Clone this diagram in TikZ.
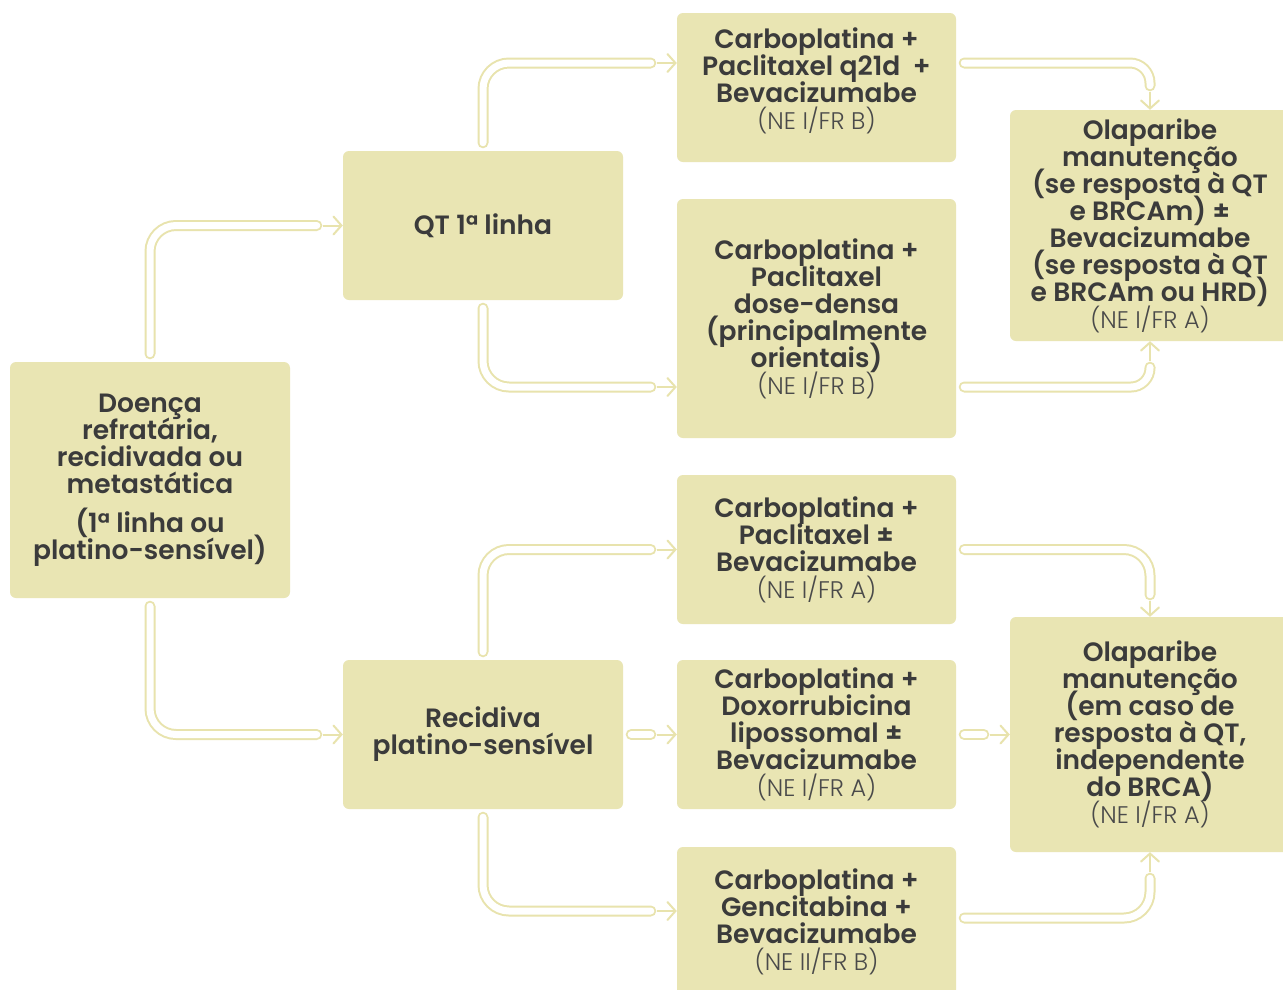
\documentclass[tikz,border=0pt]{standalone}
\usepackage{fontspec}
\setmainfont{Poppins}[BoldFont={Poppins SemiBold}]
\newfontfamily\nefont{Poppins Light}
\usetikzlibrary{calc,arrows.meta}
\definecolor{boxfill}{HTML}{E9E5B3}
\definecolor{tubecol}{HTML}{E8E3AD}
\definecolor{ink}{HTML}{3B3B3B}
\definecolor{inklight}{HTML}{4A4A4A}
\newcommand{\nelabel}[1]{{\nefont\mdseries\fontsize{24}{27}\selectfont\color{inklight}#1}}
\newcommand{\tightlines}{\lineskiplimit=-30pt\relax\lineskip=0pt\relax}
\tikzset{
  box/.style={fill=boxfill, rounded corners=6pt, align=center, text=ink,
    font=\bfseries\fontsize{26.5}{27}\selectfont\tightlines,
    inner sep=0pt, minimum width=280pt, minimum height=149pt},
  tube/.style={draw=tubecol, line width=2pt, double=white, double distance=7pt,
    line cap=round, rounded corners=26pt},
  arr/.style={draw=tubecol, line width=2pt,
    -{Straight Barb[length=8pt,width=18pt,line cap=round]}},
}
\begin{document}
\begin{tikzpicture}[x=1pt,y=-1pt]
\clip (0,0) rectangle (1283,989);
\fill[white] (0,0) rectangle (1283,989);

% boxes
\node[box, minimum height=236pt] (A) at (150,480)
  {Doença\\refratária,\\recidivada ou\\metastática\\[12pt](1ª linha ou\\platino-sensível)};
\node[box] (QT) at (483,225.5) {QT 1ª linha};
\node[box] (R) at (483,734.5) {Recidiva\\platino-sensível};
\node[box, minimum width=279pt] (C1) at (816.5,87.5)
  {Carboplatina +\\Paclitaxel q21d~ +\\Bevacizumabe\\\nelabel{(NE I/FR B)}\\[-10pt]};
\node[box, minimum width=279pt, minimum height=239pt] (C2) at (816.5,318.5)
  {Carboplatina +\\Paclitaxel\\dose-densa\\(principalmente\\orientais)\\\nelabel{(NE I/FR B)}};
\node[box, minimum width=279pt] (C3) at (816.5,549.5)
  {Carboplatina +\\Paclitaxel ±\\Bevacizumabe\\\nelabel{(NE I/FR A)}};
\node[box, minimum width=279pt] (C4) at (816.5,734.5)
  {Carboplatina +\\Doxorrubicina\\lipossomal ±\\Bevacizumabe\\\nelabel{(NE I/FR A)}};
\node[box, minimum width=279pt] (C5) at (816.5,921.5)
  {Carboplatina +\\Gencitabina +\\Bevacizumabe\\\nelabel{(NE II/FR B)}};
\node[box, minimum height=231pt] (O1) at (1150,225.5)
  {Olaparibe\\manutenção\\(se resposta à QT\\e BRCAm) ±\\Bevacizumabe\\(se resposta à QT\\e BRCAm ou HRD)\\\nelabel{(NE I/FR A)}};
\node[box, minimum height=235pt] (O2) at (1150,734.5)
  {Olaparibe\\manutenção\\(em caso de\\resposta à QT,\\independente\\do BRCA)\\\nelabel{(NE I/FR A)}};

% entry points on the box edges
\coordinate (c1in) at ($(C1.west)+(0,-24.5)$);
\coordinate (c1out) at ($(C1.east)+(0,-24.5)$);
\coordinate (c2in) at ($(C2.west)+(0,68.5)$);
\coordinate (c2out) at ($(C2.east)+(0,68.5)$);
\coordinate (c5in) at ($(C5.west)+(0,-10.5)$);
\coordinate (c5out) at ($(C5.east)+(0,-3.5)$);

% connectors: hollow tube followed by an open arrow head
\draw[tube] ($(A.north)+(0,-8)$) |- ($(QT.west)+(-26,0)$);
\draw[arr] ($(QT.west)+(-20,0)$) -- (QT.west);

\draw[tube] ($(A.south)+(0,8)$) |- ($(R.west)+(-26,0)$);
\draw[arr] ($(R.west)+(-20,0)$) -- (R.west);

\draw[tube] ($(QT.north)+(0,-8)$) |- ($(c1in)+(-26,0)$);
\draw[arr] ($(c1in)+(-20,0)$) -- (c1in);

\draw[tube] ($(QT.south)+(0,8)$) |- ($(c2in)+(-26,0)$);
\draw[arr] ($(c2in)+(-20,0)$) -- (c2in);

\draw[tube, rounded corners=20pt] ($(c1out)+(8,0)$) -| ($(O1.north)+(0,-24)$);
\draw[arr] ($(O1.north)+(0,-18)$) -- (O1.north);

\draw[tube, rounded corners=19pt] ($(c2out)+(8,0)$) -| ($(O1.south)+(0,26)$);
\draw[arr] ($(O1.south)+(0,20)$) -- (O1.south);

\draw[tube] ($(R.north)+(0,-8)$) |- ($(C3.west)+(-26,0)$);
\draw[arr] ($(C3.west)+(-20,0)$) -- (C3.west);

\draw[tube] ($(R.east)+(8,0)$) -- ($(C4.west)+(-26,0)$);
\draw[arr] ($(C4.west)+(-20,0)$) -- (C4.west);

\draw[tube] ($(R.south)+(0,8)$) |- ($(c5in)+(-26,0)$);
\draw[arr] ($(c5in)+(-20,0)$) -- (c5in);

\draw[tube] ($(C3.east)+(8,0)$) -| ($(O2.north)+(0,-22)$);
\draw[arr] ($(O2.north)+(0,-16)$) -- (O2.north);

\draw[tube] ($(C4.east)+(8,0)$) -- ($(O2.west)+(-26,0)$);
\draw[arr] ($(O2.west)+(-20,0)$) -- (O2.west);

\draw[tube] ($(c5out)+(8,0)$) -| ($(O2.south)+(0,26)$);
\draw[arr] ($(O2.south)+(0,20)$) -- (O2.south);
\end{tikzpicture}
\end{document}
